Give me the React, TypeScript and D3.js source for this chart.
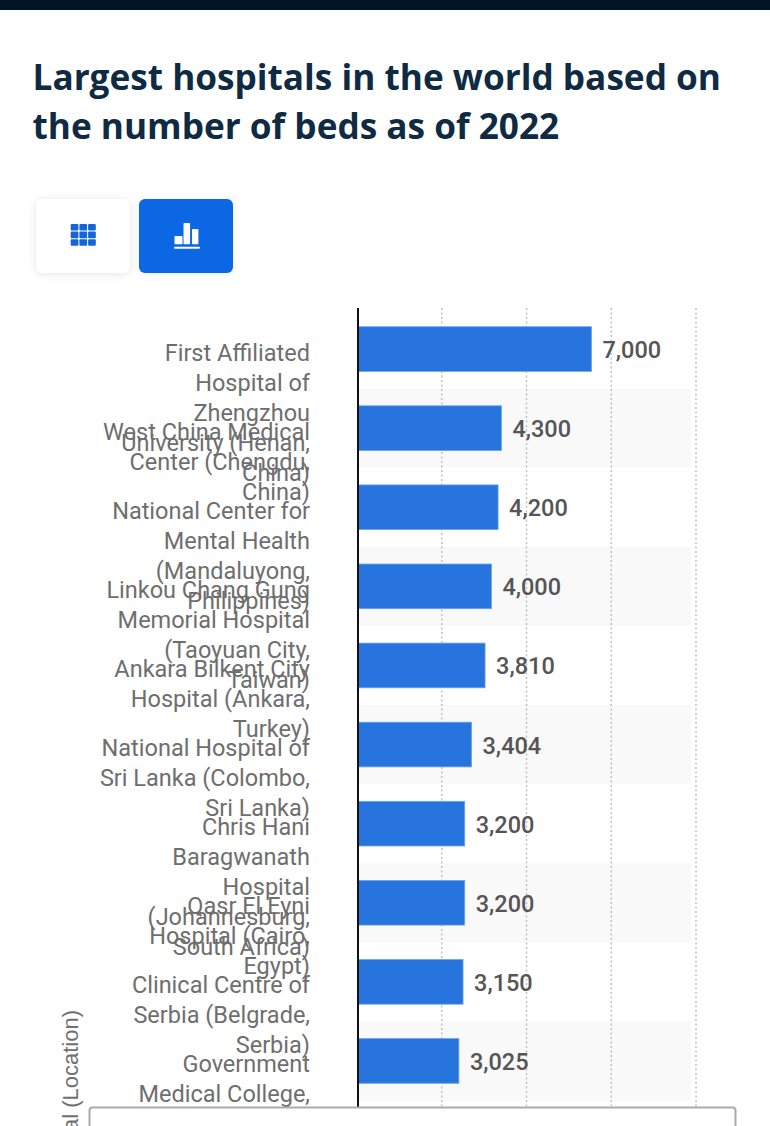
import { useEffect, useRef } from 'react';
import * as d3 from 'd3';

const titleLines = ['Largest hospitals in the world based on', 'the number of beds as of 2022'];

const hospitals = [
  ['First Affiliated', 'Hospital of', 'Zhengzhou', 'University (Henan,', 'China)'],
  ['West China Medical', 'Center (Chengdu,', 'China)'],
  ['National Center for', 'Mental Health', '(Mandaluyong,', 'Philippines)'],
  ['Linkou Chang Gung', 'Memorial Hospital', '(Taoyuan City,', 'Taiwan)'],
  ['Ankara Bilkent City', 'Hospital (Ankara,', 'Turkey)'],
  ['National Hospital of', 'Sri Lanka (Colombo,', 'Sri Lanka)'],
  ['Chris Hani', 'Baragwanath', 'Hospital', '(Johannesburg,', 'South Africa)'],
  ['Qasr El Eyni', 'Hospital (Cairo,', 'Egypt)'],
  ['Clinical Centre of', 'Serbia (Belgrade,', 'Serbia)'],
  ['Government', 'Medical College,'],
];
const beds = [7000, 4300, 4200, 4000, 3810, 3404, 3200, 3200, 3150, 3025];
const gridTicks = [2500, 5000, 7500, 10000];

const App = () => {
  const chartRef = useRef<SVGSVGElement>(null);

  useEffect(() => {
    const width = 770;
    const height = 1126;
    const svg = d3.select(chartRef.current).attr('width', width).attr('height', height);
    svg.selectAll('*').remove();

    const x = d3.scaleLinear().domain([0, 10000]).range([358, 691.5]);
    const gridX = d3.scaleLinear().domain([0, 10000]).range([357, 696]);
    const y = d3.scaleBand<number>()
      .domain(d3.range(beds.length))
      .range([309.5, 1100.5])
      .paddingInner(0.435)
      .paddingOuter(0.2175);
    const rowH = y.step();

    // header
    svg.append('rect').attr('width', width).attr('height', 10).attr('fill', '#001327');
    svg.selectAll('.title')
      .data(titleLines)
      .enter()
      .append('text')
      .attr('x', 32.5)
      .attr('y', (_, i) => 90 + i * 49)
      .attr('font-family', '"Open Sans"')
      .attr('font-weight', 700)
      .attr('font-size', 35.2)
      .attr('fill', '#0f2a43')
      .text(d => d);

    // table / chart buttons
    svg.append('rect')
      .attr('x', 36).attr('y', 199).attr('width', 94).attr('height', 74).attr('rx', 6)
      .attr('fill', '#fff')
      .style('filter', 'drop-shadow(0 1px 4px rgba(0,0,0,0.1))');
    svg.append('rect')
      .attr('x', 139).attr('y', 199).attr('width', 94).attr('height', 74).attr('rx', 6)
      .attr('fill', '#0b67e4')
      .style('filter', 'drop-shadow(0 1px 3px rgba(0,0,0,0.08))');
    d3.range(9).forEach(i => {
      svg.append('rect')
        .attr('x', 70.7 + (i % 3) * 8.7)
        .attr('y', 224 + Math.floor(i / 3) * 7.6)
        .attr('width', 7.7)
        .attr('height', 6.6)
        .attr('rx', 1)
        .attr('fill', '#1466d8');
    });
    [[174.5, 236, 8, 8.2], [183.5, 223, 6.6, 21.2], [192, 229, 6.4, 15.2], [174, 246.8, 26, 2]].forEach(r => {
      svg.append('rect')
        .attr('x', r[0]).attr('y', r[1]).attr('width', r[2]).attr('height', r[3])
        .attr('rx', 0.8)
        .attr('fill', '#fff');
    });

    // row stripes
    svg.selectAll('.stripe')
      .data(d3.range(beds.length).filter(i => i % 2 === 1))
      .enter()
      .append('rect')
      .attr('x', 358)
      .attr('y', i => (y(i) as number) + y.bandwidth() / 2 - rowH / 2)
      .attr('width', 333)
      .attr('height', rowH)
      .attr('fill', '#f9f9f9');

    // grid
    svg.selectAll('.grid')
      .data(gridTicks)
      .enter()
      .append('line')
      .attr('x1', d => gridX(d))
      .attr('x2', d => gridX(d))
      .attr('y1', 308)
      .attr('y2', 1107)
      .attr('stroke', '#bdbdbd')
      .attr('stroke-width', 1.4)
      .attr('stroke-dasharray', '2 2.5');

    // bars
    svg.selectAll('.bar')
      .data(beds)
      .enter()
      .append('rect')
      .attr('x', x(0))
      .attr('y', (_, i) => y(i) as number)
      .attr('width', d => x(d) - x(0))
      .attr('height', y.bandwidth())
      .attr('fill', '#2874de')
      .attr('stroke', '#6aa5ea')
      .attr('stroke-width', 0.8);

    svg.selectAll('.value')
      .data(beds)
      .enter()
      .append('text')
      .attr('x', d => x(d) + 11)
      .attr('y', (_, i) => (y(i) as number) + y.bandwidth() / 2 + 9)
      .attr('font-family', 'Roboto')
      .attr('font-weight', 500)
      .attr('font-size', 23.5)
      .attr('fill', '#555555')
      .text(d => d3.format(',')(d));

    // category labels, all start at the row centre so they run into each other
    hospitals.forEach((lines, i) => {
      svg.append('g')
        .selectAll('text')
        .data(lines)
        .enter()
        .append('text')
        .attr('x', 310)
        .attr('y', (_, k) => (y(i) as number) + y.bandwidth() / 2 + 11.5 + k * 30)
        .attr('text-anchor', 'end')
        .attr('font-family', 'Roboto')
        .attr('font-size', 23.5)
        .attr('fill', '#6e6e6e')
        .text(d => d);
    });

    svg.append('line')
      .attr('x1', 358).attr('x2', 358).attr('y1', 308).attr('y2', 1107)
      .attr('stroke', '#111').attr('stroke-width', 2);

    svg.append('text')
      .attr('transform', 'translate(78,1010) rotate(-90)')
      .attr('text-anchor', 'end')
      .attr('font-family', '"Liberation Sans"')
      .attr('font-size', 22)
      .attr('fill', '#707070')
      .text('Hospital (Location)');

    // box sitting over the bottom of the chart
    svg.append('rect')
      .attr('x', 89.5).attr('y', 1107.5).attr('width', 646).attr('height', 40).attr('rx', 3)
      .attr('fill', '#fff')
      .attr('stroke', '#ababab')
      .attr('stroke-width', 2);
  }, []);

  return <svg ref={chartRef} style={{ position: 'absolute', left: 0, top: 0, display: 'block', background: '#fff' }}></svg>;
};

export default App;
